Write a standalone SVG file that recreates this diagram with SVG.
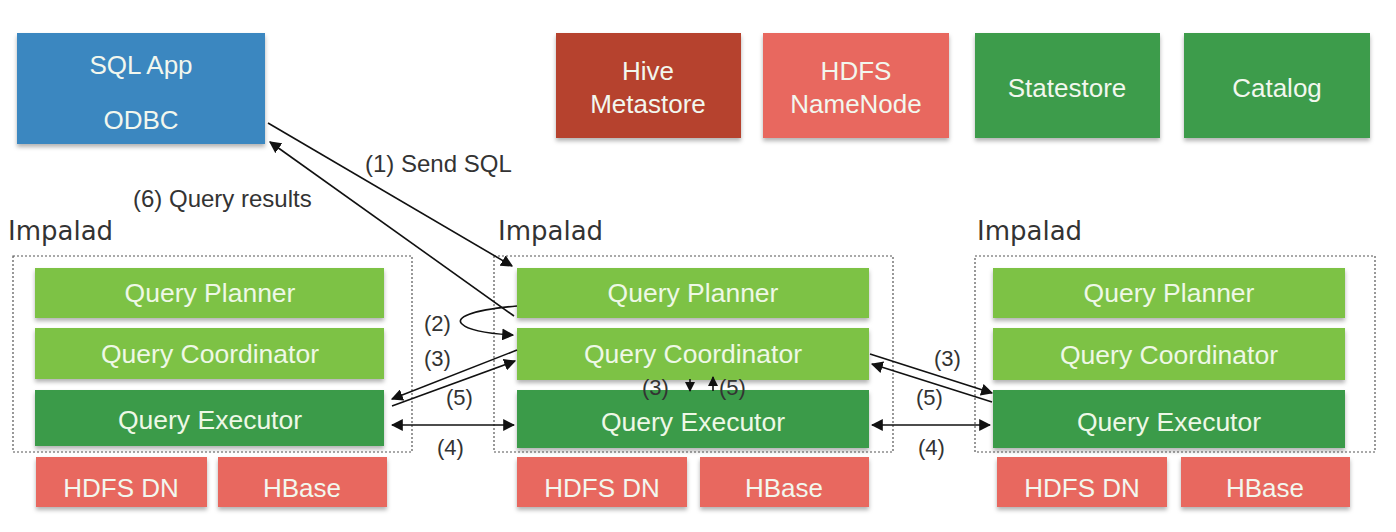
<svg xmlns="http://www.w3.org/2000/svg" width="1396" height="532" viewBox="0 0 1396 532">
<style>
.box{stroke:none;filter:url(#sh)}
.blue{fill:#3b87c0}
.brick{fill:#b6432f}
.salmon{fill:#e8675f}
.green{fill:#3d9c4b}
.lg{fill:#7dc244}
.dg{fill:#3a9b48}
.t{font-family:"Liberation Sans",Arial,sans-serif;font-size:26px;fill:#f2f7ee;text-anchor:middle}
.tc{font-family:"Liberation Sans",Arial,sans-serif;font-size:26.5px;fill:#eef8e6;text-anchor:middle}
.lbl{font-family:"Liberation Sans",Arial,sans-serif;font-size:22px;fill:#333}
.big{font-size:24px}
.imp{font-family:"DejaVu Sans",sans-serif;font-size:26px;fill:#333}
.dash{fill:none;stroke:#555;stroke-width:1.2;stroke-dasharray:2 2}
.ln{fill:none;stroke:#111;stroke-width:1.6}
</style>
<defs>
<filter id="sh" x="-10%" y="-10%" width="120%" height="130%">
<feDropShadow dx="0" dy="3" stdDeviation="2" flood-color="#000" flood-opacity="0.3"/>
</filter>
<marker id="ah" viewBox="0 0 10 10" refX="9" refY="5" markerWidth="10" markerHeight="10" orient="auto-start-reverse" markerUnits="userSpaceOnUse">
<path d="M0,0 L10,5 L0,10 z" fill="#111"/>
</marker>
<marker id="ahs" viewBox="0 0 10 10" refX="9" refY="5" markerWidth="12" markerHeight="12" orient="auto-start-reverse" markerUnits="userSpaceOnUse">
<path d="M0,0 L10,5 L0,10 z" fill="#111"/>
</marker>
</defs>
<rect width="1396" height="532" fill="#fff"/>

<g id="sqlapp">
<rect class="box blue" x="17" y="33" width="248" height="111"/>
<text class="t" x="141" y="74">SQL App</text>
<text class="t" x="141" y="129">ODBC</text>
</g>
<g id="hive">
<rect class="box brick" x="556" y="33" width="185" height="105"/>
<text class="t" x="648" y="80">Hive</text>
<text class="t" x="648" y="113">Metastore</text>
</g>
<g id="namenode">
<rect class="box salmon" x="763" y="33" width="186" height="105"/>
<text class="t" x="856" y="80">HDFS</text>
<text class="t" x="856" y="113">NameNode</text>
</g>
<g id="statestore">
<rect class="box green" x="975" y="33" width="185" height="105"/>
<text class="t" x="1067" y="97">Statestore</text>
</g>
<g id="catalog">
<rect class="box green" x="1184" y="33" width="186" height="105"/>
<text class="t" x="1277" y="97">Catalog</text>
</g>

<g id="impalad1">
<text class="imp" x="8" y="240">Impalad</text>
<rect class="dash" x="13" y="256" width="399" height="196"/>
<g id="planner1"><rect class="box lg" x="35" y="268" width="349" height="50"/><text class="tc" x="210" y="302">Query Planner</text></g>
<g id="coord1"><rect class="box lg" x="35" y="328" width="349" height="51"/><text class="tc" x="210" y="363">Query Coordinator</text></g>
<g id="exec1"><rect class="box dg" x="35" y="390" width="349" height="56"/><text class="tc" x="210" y="429">Query Executor</text></g>
</g>
<g id="hdfsdn1"><rect class="box salmon" x="36" y="457" width="171" height="50"/><text class="t" x="121" y="497">HDFS DN</text></g>
<g id="hbase1"><rect class="box salmon" x="218" y="457" width="169" height="50"/><text class="t" x="302" y="497">HBase</text></g>

<g id="impalad2">
<text class="imp" x="498" y="240">Impalad</text>
<rect class="dash" x="494" y="256" width="399" height="196"/>
<g id="planner2"><rect class="box lg" x="517" y="268" width="352" height="50"/><text class="tc" x="693" y="302">Query Planner</text></g>
<g id="coord2"><rect class="box lg" x="517" y="328" width="352" height="52"/><text class="tc" x="693" y="363">Query Coordinator</text></g>
<g id="exec2"><rect class="box dg" x="517" y="390" width="352" height="58"/><text class="tc" x="693" y="431">Query Executor</text></g>
</g>
<g id="hdfsdn2"><rect class="box salmon" x="517" y="457" width="170" height="50"/><text class="t" x="602" y="497">HDFS DN</text></g>
<g id="hbase2"><rect class="box salmon" x="700" y="457" width="169" height="50"/><text class="t" x="784" y="497">HBase</text></g>

<g id="impalad3">
<text class="imp" x="977" y="240">Impalad</text>
<rect class="dash" x="975" y="256" width="400" height="196"/>
<g id="planner3"><rect class="box lg" x="993" y="268" width="352" height="50"/><text class="tc" x="1169" y="302">Query Planner</text></g>
<g id="coord3"><rect class="box lg" x="993" y="328" width="352" height="52"/><text class="tc" x="1169" y="364">Query Coordinator</text></g>
<g id="exec3"><rect class="box dg" x="993" y="390" width="352" height="58"/><text class="tc" x="1169" y="431">Query Executor</text></g>
</g>
<g id="hdfsdn3"><rect class="box salmon" x="997" y="457" width="170" height="50"/><text class="t" x="1082" y="497">HDFS DN</text></g>
<g id="hbase3"><rect class="box salmon" x="1181" y="457" width="169" height="50"/><text class="t" x="1265" y="497">HBase</text></g>

<g id="connectors">
<line class="ln" x1="268" y1="123" x2="512" y2="266" marker-end="url(#ahs)"/>
<line class="ln" x1="514" y1="316" x2="270" y2="142" marker-end="url(#ahs)"/>
<path class="ln" d="M517,306 C470,310 455,318 462,324 C470,332 495,334 513,335" marker-end="url(#ahs)"/>
<line class="ln" x1="517" y1="350" x2="392" y2="399" marker-end="url(#ahs)"/>
<line class="ln" x1="392" y1="406" x2="515" y2="361" marker-end="url(#ahs)"/>
<line class="ln" x1="392" y1="425" x2="514" y2="425" marker-start="url(#ahs)" marker-end="url(#ahs)"/>
<line class="ln" x1="870" y1="354" x2="992" y2="393" marker-end="url(#ahs)"/>
<line class="ln" x1="992" y1="402" x2="872" y2="364" marker-end="url(#ahs)"/>
<line class="ln" x1="872" y1="425" x2="990" y2="425" marker-start="url(#ahs)" marker-end="url(#ahs)"/>
<line class="ln" x1="690" y1="379" x2="690" y2="391" marker-end="url(#ah)"/>
<line class="ln" x1="713" y1="391" x2="713" y2="377" marker-end="url(#ah)"/>
</g>

<g id="labels">
<text class="lbl big" x="365" y="172">(1) Send SQL</text>
<text class="lbl big" x="133" y="207">(6) Query results</text>
<text class="lbl" x="424" y="331">(2)</text>
<text class="lbl" x="424" y="366">(3)</text>
<text class="lbl" x="446" y="405">(5)</text>
<text class="lbl" x="437" y="455">(4)</text>
<text class="lbl" x="642" y="395">(3)</text>
<text class="lbl" x="719" y="395">(5)</text>
<text class="lbl" x="934" y="366">(3)</text>
<text class="lbl" x="916" y="405">(5)</text>
<text class="lbl" x="918" y="455">(4)</text>
</g>
</svg>
